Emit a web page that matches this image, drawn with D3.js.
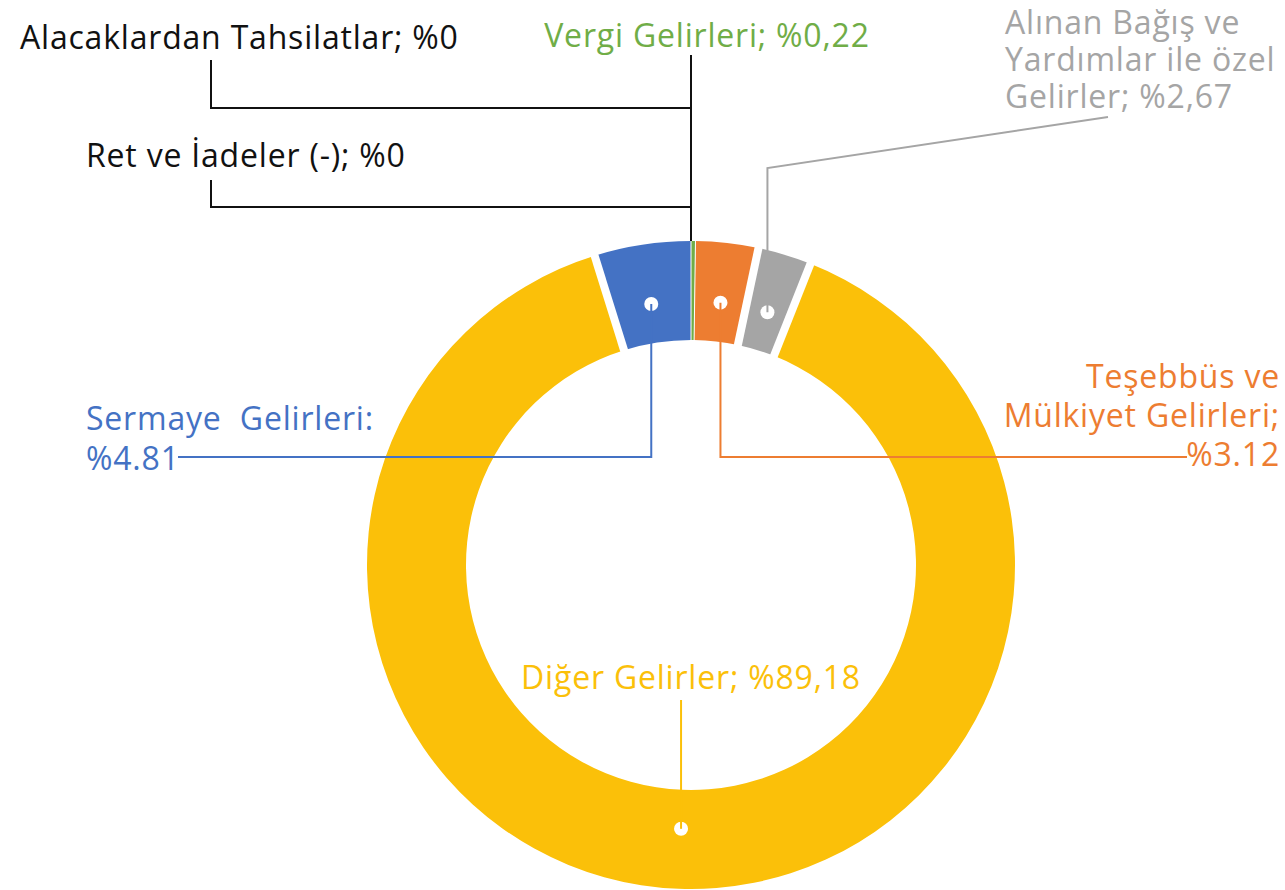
<!DOCTYPE html>
<html>
<head>
<meta charset="utf-8">
<script src="https://cdn.jsdelivr.net/npm/d3@7"></script>
<style>
  html, body { margin: 0; padding: 0; background: #fff; }
  svg text { font-family: "Open Sans", Lato, sans-serif; white-space: pre; letter-spacing: 0.8px; }
</style>
</head>
<body>
<svg id="chart" width="1285" height="890"></svg>
<script>
// slices in clockwise order starting at 12 o'clock
const categories = [
  'Vergi Gelirleri',
  'Teşebbüs ve Mülkiyet Gelirleri',
  'Alınan Bağış ve Yardımlar ile özel Gelirler',
  'Diğer Gelirler',
  'Sermaye Gelirleri',
  'Alacaklardan Tahsilatlar',
  'Ret ve İadeler (-)'
];
const shares = [0.22, 3.12, 2.67, 89.18, 4.81, 0, 0];
const labelTexts = [
  ['Vergi Gelirleri; %0,22'],
  ['Teşebbüs ve', 'Mülkiyet Gelirleri;', '%3.12'],
  ['Alınan Bağış ve', 'Yardımlar ile özel', 'Gelirler; %2,67'],
  ['Diğer Gelirler; %89,18'],
  ['Sermaye  Gelirleri:', '%4.81'],
  ['Alacaklardan Tahsilatlar; %0'],
  ['Ret ve İadeler (-); %0']
];

const sliceColors = ['#70AD47', '#ED7D31', '#A5A5A5', '#FBC009', '#4472C4', '#5B9BD5', '#264478'];
const labelColors = ['#70AD47', '#ED7D31', '#A5A5A5', '#FBC009', '#4472C4', '#111', '#111'];

const width = 1285, height = 890;
const cx = 691, cy = 565;
const rOuter = 324, rInner = 225, rAnchor = 264;
const fontSize = 32;

const svg = d3.select('#chart');

const pie = d3.pie().sort(null).value(d => d)
  .startAngle(0).endAngle(2 * Math.PI);
const arcs = pie(shares);

const arc = d3.arc().innerRadius(rInner).outerRadius(rOuter);
const anchorArc = d3.arc().innerRadius(rAnchor).outerRadius(rAnchor);

const g = svg.append('g').attr('transform', `translate(${cx},${cy})`);

g.selectAll('path.slice')
  .data(arcs.filter(d => d.value > 0))
  .join('path')
  .attr('class', 'slice')
  .attr('fill', d => sliceColors[d.index])
  .attr('d', arc);

// white borders between slices (thin next to the tiny Vergi slice)
const nonZero = arcs.filter(d => d.value > 0);
const borders = nonZero.map((d, i) => {
  const next = nonZero[(i + 1) % nonZero.length];
  return { angle: d.endAngle, thin: d.index === 0 || next.index === 0 };
});
g.selectAll('line.border')
  .data(borders)
  .join('line')
  .attr('class', 'border')
  .attr('x1', d => (rInner - 3) * Math.sin(d.angle))
  .attr('y1', d => -(rInner - 3) * Math.cos(d.angle))
  .attr('x2', d => (rOuter + 3) * Math.sin(d.angle))
  .attr('y2', d => -(rOuter + 3) * Math.cos(d.angle))
  .attr('stroke', '#fff')
  .attr('stroke-width', d => d.thin ? 1 : 8);

// anchor points in absolute coordinates
const anchor = i => {
  const c = anchorArc.centroid(arcs[i]);
  return [cx + c[0], cy + c[1]];
};
const ringTop = [cx, cy - rOuter];

// leader layout for the labelled slices
const leaders = [
  { idx: 1, pts: a => [a, [a[0], 457], [1187, 457]] },
  { idx: 2, pts: a => [a, [a[0], 168], [1108, 117]] },
  { idx: 3, pts: a => [a, [a[0], 700]] },
  { idx: 4, pts: a => [a, [a[0], 457], [178, 457]] }
];

svg.selectAll('circle.dot')
  .data(leaders)
  .join('circle')
  .attr('class', 'dot')
  .attr('cx', d => anchor(d.idx)[0])
  .attr('cy', d => anchor(d.idx)[1])
  .attr('r', 7)
  .attr('fill', '#fff');

const line = d3.line();
svg.selectAll('path.leader')
  .data(leaders)
  .join('path')
  .attr('class', 'leader')
  .attr('fill', 'none')
  .attr('stroke', d => labelColors[d.idx])
  .attr('stroke-width', 2)
  .attr('d', d => line(d.pts(anchor(d.idx))));

// black leaders of the zero slices, which sit at 12 o'clock
const zeroLeaders = [
  [ringTop, [cx, 55]],
  [[cx, 108], [211, 108], [211, 60]],
  [[cx, 207], [211, 207], [211, 180]]
];
svg.selectAll('path.zero')
  .data(zeroLeaders)
  .join('path')
  .attr('class', 'zero')
  .attr('fill', 'none')
  .attr('stroke', '#111')
  .attr('stroke-width', 2)
  .attr('d', d => line(d));

// labels
const labelPos = [
  { x: 707, y: 47, anchor: 'middle', lh: 37 },
  { x: 1280, y: 388, anchor: 'end', lh: 39 },
  { x: 1005, y: 34, anchor: 'start', lh: 37 },
  { x: 691, y: 689, anchor: 'middle', lh: 37 },
  { x: 86, y: 430, anchor: 'start', lh: 40 },
  { x: 20, y: 49, anchor: 'start', lh: 37 },
  { x: 86, y: 167, anchor: 'start', lh: 37 }
];

labelTexts.forEach((lines, i) => {
  const p = labelPos[i];
  const t = svg.append('text')
    .attr('x', p.x)
    .attr('y', p.y)
    .attr('text-anchor', p.anchor)
    .attr('fill', labelColors[i])
    .attr('font-size', fontSize);
  lines.forEach((s, j) => {
    t.append('tspan')
      .attr('x', p.x)
      .attr('dy', j === 0 ? 0 : p.lh)
      .text(s);
  });
});
</script>
</body>
</html>
